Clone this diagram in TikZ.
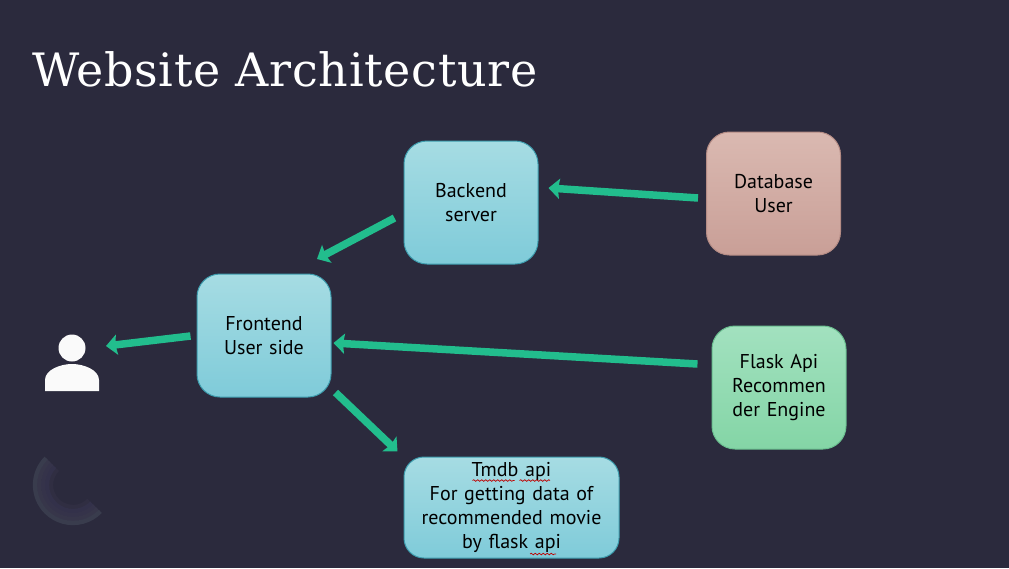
\documentclass[tikz,border=0pt]{standalone}
\usepackage{fontspec}
\setmainfont[WordSpace=0.7]{PT Sans}
\newfontfamily\titlefont[LetterSpace=1.5]{DejaVu Serif}
\usetikzlibrary{decorations.pathmorphing,arrows.meta,calc}
\definecolor{bgc}{HTML}{2B2A3D}
\definecolor{flowc}{HTML}{22BD8D}
\definecolor{tealtop}{HTML}{A6DCE3}
\definecolor{tealbot}{HTML}{7FCBD9}
\definecolor{tealedge}{HTML}{3E9DAE}
\definecolor{rosetop}{HTML}{DAB9B1}
\definecolor{rosebot}{HTML}{C99F97}
\definecolor{rosedge}{HTML}{B58C85}
\definecolor{greentop}{HTML}{A2E1BF}
\definecolor{greenbot}{HTML}{84D5A6}
\definecolor{greenedge}{HTML}{6BBF90}
\definecolor{personc}{HTML}{FAFAFA}
\tikzset{
 x=1pt,y=-1pt,
 boxbase/.style={rounded corners=23pt,line width=1pt,align=center,text=black,font=\fontsize{20}{24}\selectfont,inner sep=0pt,text width=#1,anchor=center},
 boxbase/.default=134pt,
 tealbox/.style={boxbase=#1,draw=tealedge,top color=tealtop,bottom color=tealbot},
 tealbox/.default=134pt,
 rosebox/.style={boxbase,draw=rosedge,top color=rosetop,bottom color=rosebot},
 greenbox/.style={boxbase,draw=greenedge,top color=greentop,bottom color=greenbot},
 flow/.style={draw=flowc,line width=7.5pt,-{Stealth[length=11pt,width=20pt,inset=1.5pt]}},
 squiggle/.style={draw=red!75!black,line width=0.7pt,decorate,decoration={snake,amplitude=0.8pt,segment length=4pt}},
}
\begin{document}
\begin{tikzpicture}
\useasboundingbox[fill=bgc] (0,0) rectangle (1009,568);
\node[anchor=base west,text=white,font=\titlefont\fontsize{46}{46}\selectfont,inner sep=0pt] (title) at (32,86) {Website Architecture};
% logo
\coordinate (logoc) at (73,485);
\foreach \r/\c in {22/302E42,26/33314A,30/35334A,34/37364A,38/393C4D}{
  \definecolor{lc}{HTML}{\c}
  \draw[lc,line width=4.3pt] ($(logoc)+(-135:\r)$) arc[start angle=-135,end angle=-316,radius=\r];
}
% person
\node[circle,fill=personc,minimum size=27pt,inner sep=0pt] (head) at (72,348) {};
\fill[personc] (45,391) -- (45,380) .. controls (45,370) and (60,364) .. (72,364) .. controls (84,364) and (99,370) .. (99,380) -- (99,391) -- cycle;
\coordinate (person) at (72,368);
% boxes
\node[tealbox,minimum height=123pt] (backend) at (471,202.5) {Backend\\server};
\node[tealbox,minimum height=123pt] (frontend) at (264,335.5) {Frontend\\User side};
\node[rosebox,minimum height=123pt] (database) at (773.5,193.5) {Database\\User};
\node[greenbox,minimum height=123pt] (flask) at (779,387.5) {Flask Api\\Recommen\\der Engine};
\node[tealbox=215pt,minimum height=101pt,rounded corners=20pt] (tmdb) at (511.5,507.5) {Tmdb api\\For getting data of\\recommended movie\\by flask api};
% connectors
\draw[flow] ([shift={(-8,4.5)}]database.west) -- ([shift={(10,-14.5)}]backend.east);
\draw[flow] ([shift={(-9,15.5)}]backend.west) -- ([shift={(53,-76.5)}]frontend.center);
\draw[flow] ([shift={(-14,-23.5)}]flask.west) -- ([shift={(2,7.5)}]frontend.east);
\draw[flow] ([shift={(-6,0.5)}]frontend.west) -- ([shift={(34,-22)}]person);
\draw[flow] ([shift={(4,-5)}]frontend.south east) -- ([shift={(-6,-5)}]tmdb.north west);
% squiggles
\draw[squiggle] ([shift={(-39,-27)}]tmdb.center) -- ([shift={(3,-27)}]tmdb.center);
\draw[squiggle] ([shift={(8,-27)}]tmdb.center) -- ([shift={(38.5,-27)}]tmdb.center);
\draw[squiggle] ([shift={(18.5,46.5)}]tmdb.center) -- ([shift={(44.5,46.5)}]tmdb.center);
\end{tikzpicture}
\end{document}
